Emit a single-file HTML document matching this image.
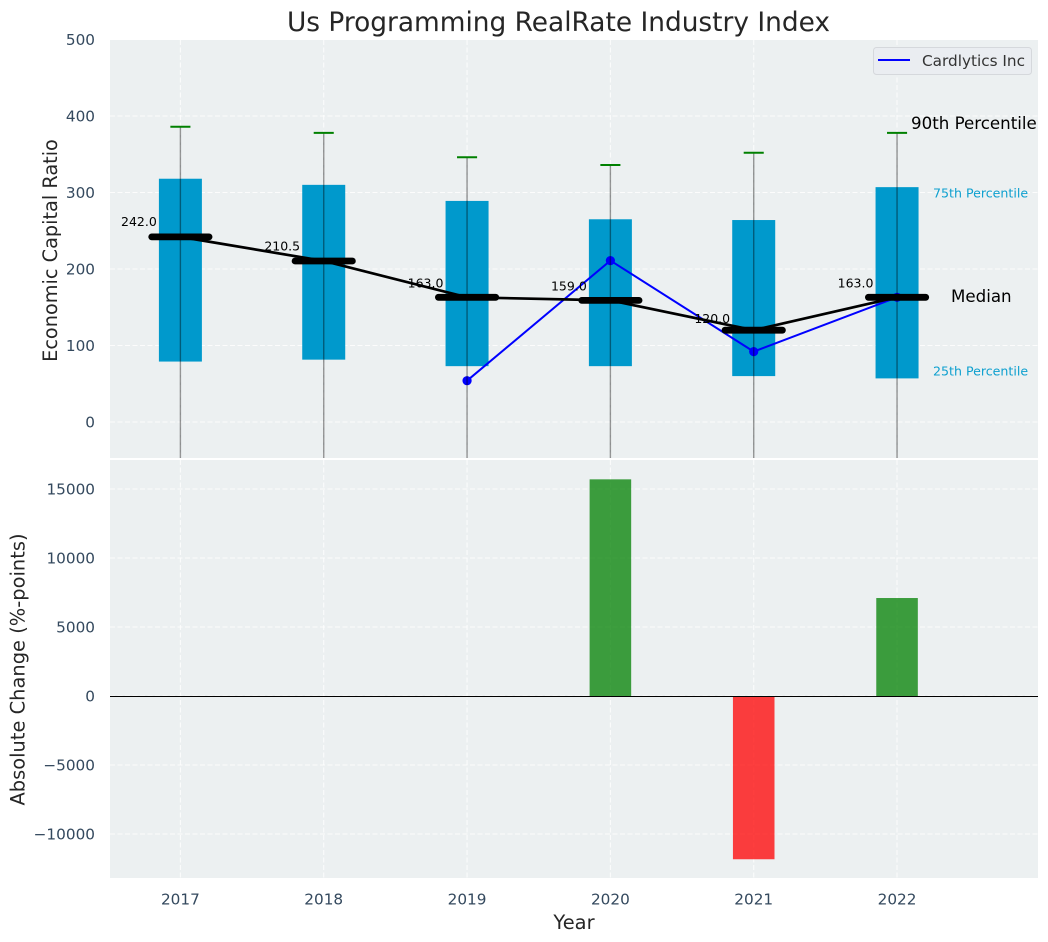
<!DOCTYPE html>
<html lang="en">
<head>
<meta charset="utf-8">
<title>Us Programming RealRate Industry Index</title>
<style>
html,body{margin:0;padding:0;background:#fff;width:1048px;height:942px;overflow:hidden}
svg{display:block;font-family:"DejaVu Sans","Liberation Sans",sans-serif}
</style>
</head>
<body>
<svg id="chart" width="1048" height="942" viewBox="0 0 1048 942" xmlns="http://www.w3.org/2000/svg">
<defs>
<clipPath id="top-clip"><rect x="110" y="40" width="928" height="418"></rect></clipPath>
<clipPath id="bottom-clip"><rect x="110" y="460" width="928" height="418"></rect></clipPath>
</defs>
<rect x="110" y="40" width="928" height="418" fill="#ecf0f1"></rect>
<rect x="110" y="460" width="928" height="418" fill="#ecf0f1"></rect>
<g id="top-grid"></g>
<g id="bottom-grid"></g>
<g id="top-marks" clip-path="url(#top-clip)"></g>
<g id="bottom-marks" clip-path="url(#bottom-clip)"></g>
<g id="ticks"></g>
<text x="558.5" y="31" text-anchor="middle" font-size="26.4" fill="#262626">Us Programming RealRate Industry Index</text>
<text transform="translate(57,250.5) rotate(-90)" text-anchor="middle" font-size="19.3" fill="#262626">Economic Capital Ratio</text>
<text transform="translate(24.5,669.5) rotate(-90)" text-anchor="middle" font-size="19.44" fill="#262626">Absolute Change (%-points)</text>
<text x="574" y="929" text-anchor="middle" font-size="19.44" fill="#262626">Year</text>
<g>
<rect x="873.5" y="47.5" width="158" height="27" rx="3" fill="#eaedf1" stroke="#d5d8dc" stroke-width="1"></rect>
<line x1="878" x2="910" y1="60" y2="60" stroke="#0000ff" stroke-width="2"></line>
<text x="922" y="66" font-size="15.28" fill="#333333">Cardlytics Inc</text>
</g>
<text x="911" y="129" font-size="16.67" fill="#000000">90th Percentile</text>
<text x="933" y="197.5" font-size="12.6" fill="#0ea0cf">75th Percentile</text>
<text x="951" y="302" font-size="16.67" fill="#000000">Median</text>
<text x="933" y="375.5" font-size="12.6" fill="#0ea0cf">25th Percentile</text>
</svg>
<script>
const years = [2017, 2018, 2019, 2020, 2021, 2022];
const p90 = [386, 378, 346, 336, 352, 378];
const p75 = [318, 310, 289, 265, 264, 307];
const medians = [242.0, 210.5, 163.0, 159.0, 120.0, 163.0];
const p25 = [79, 81.5, 73, 73, 60, 57];
const p10 = [-100, -100, -100, -100, -100, -100];
const cardlytics = [null, null, 54, 211, 92, 163];
const absoluteChange = [0, 0, 0, 15700, -11830, 7100];
const topTicks = [0, 100, 200, 300, 400, 500];
const bottomTicks = [-10000, -5000, 0, 5000, 10000, 15000];

const NS = 'http://www.w3.org/2000/svg';
const xPos = function (i) { return 180.4 + 143.33 * i; };
const yTop = function (v) { return 422 - 0.765 * v; };
const yBottom = function (v) { return 696 - 0.0138 * v; };
const labelLift = function (v) { return v < 130 ? 7 : 10 + (v - 163) * 0.0127; };
const band = 143.33;

function make(parentId, tag, attrs, content) {
  const el = document.createElementNS(NS, tag);
  Object.keys(attrs).forEach(function (k) { el.setAttribute(k, attrs[k]); });
  if (content !== undefined) { el.textContent = content; }
  document.getElementById(parentId).appendChild(el);
  return el;
}
function fmt(v) { return v < 0 ? '\u2212' + Math.abs(v) : String(v); }

topTicks.forEach(function (t) {
  const line = make('top-grid', 'line', {x1: 110, x2: 1038, y1: yTop(t), y2: yTop(t), stroke: '#fff', 'stroke-width': 1, 'stroke-dasharray': '5,2.5', opacity: 0.85});
  
  
  const label = make('ticks', 'text', {x: 95, y: yTop(t) + 5.5, 'text-anchor': 'end', 'font-size': 15.28, fill: '#34495e'}, fmt(t));
  
  
});
bottomTicks.forEach(function (t) {
  const line = make('bottom-grid', 'line', {x1: 110, x2: 1038, y1: yBottom(t), y2: yBottom(t), stroke: '#fff', 'stroke-width': 1, 'stroke-dasharray': '5,2.5', opacity: 0.85});
  
  
  const label = make('ticks', 'text', {x: 95, y: yBottom(t) + 5.5, 'text-anchor': 'end', 'font-size': 15.28, fill: '#34495e'}, fmt(t));
  
  
});
years.forEach(function (yr, i) {
  const a = make('top-grid', 'line', {x1: xPos(i), x2: xPos(i), y1: 40, y2: 458, stroke: '#fff', 'stroke-width': 1, 'stroke-dasharray': '5,2.5', opacity: 0.85});
  
  
  const b = make('bottom-grid', 'line', {x1: xPos(i), x2: xPos(i), y1: 460, y2: 878, stroke: '#fff', 'stroke-width': 1, 'stroke-dasharray': '5,2.5', opacity: 0.85});
  
  
  const label = make('ticks', 'text', {x: xPos(i), y: 904.5, 'text-anchor': 'middle', 'font-size': 15.28, fill: '#34495e'}, String(yr));
  
  
});

years.forEach(function (yr, i) {
  const box = make('top-marks', 'rect', {x: xPos(i) - band * 0.15, y: yTop(p75[i]), width: band * 0.3, height: yTop(p25[i]) - yTop(p75[i]), fill: '#0099cc'});
  
  
});

let cardPoints = '';
years.forEach(function (yr, i) {
  if (cardlytics[i] !== null) { cardPoints += xPos(i) + ',' + yTop(cardlytics[i]) + ' '; }
});
const cardLine = make('top-marks', 'polyline', {points: cardPoints.trim(), fill: 'none', stroke: '#0000ff', 'stroke-width': 2});


years.forEach(function (yr, i) {
  if (cardlytics[i] === null) { return; }
  const dot = make('top-marks', 'circle', {cx: xPos(i), cy: yTop(cardlytics[i]), r: 4.6, fill: '#0000ff'});
  
  
});

years.forEach(function (yr, i) {
  const whisker = make('top-marks', 'line', {x1: xPos(i), x2: xPos(i), y1: yTop(p90[i]), y2: yTop(p10[i]), stroke: '#000', 'stroke-width': 1.4, opacity: 0.4});
  
  
  const cap = make('top-marks', 'line', {x1: xPos(i) - band * 0.07, x2: xPos(i) + band * 0.07, y1: yTop(p90[i]), y2: yTop(p90[i]), stroke: '#008000', 'stroke-width': 2});
  
  
});

let medianPoints = '';
years.forEach(function (yr, i) { medianPoints += xPos(i) + ',' + yTop(medians[i]) + ' '; });
const medianLine = make('top-marks', 'polyline', {points: medianPoints.trim(), fill: 'none', stroke: '#000', 'stroke-width': 2.7});


years.forEach(function (yr, i) {
  const bar = make('top-marks', 'line', {x1: xPos(i) - band * 0.2, x2: xPos(i) + band * 0.2, y1: yTop(medians[i]), y2: yTop(medians[i]), stroke: '#000', 'stroke-width': 6.8, 'stroke-linecap': 'round'});
  
  
  const label = make('top-marks', 'text', {x: xPos(i) - 41.5, y: yTop(medians[i]) - labelLift(medians[i]), 'text-anchor': 'middle', 'font-size': 12.5, fill: '#000'}, medians[i].toFixed(1));
  
  
});

years.forEach(function (yr, i) {
  const v = absoluteChange[i];
  if (v === 0) { return; }
  const bar = make('bottom-marks', 'rect', {x: xPos(i) - band * 0.145, y: Math.min(yBottom(v), yBottom(0)), width: band * 0.29, height: Math.abs(yBottom(v) - yBottom(0)), fill: v > 0 ? '#008000' : '#ff0000', 'fill-opacity': 0.75});
  
  
});
const zeroLine = make('bottom-marks', 'line', {x1: 110, x2: 1038, y1: yBottom(0) + 0.5, y2: yBottom(0) + 0.5, stroke: '#000', 'stroke-width': 1});


</script>
</body>
</html>
